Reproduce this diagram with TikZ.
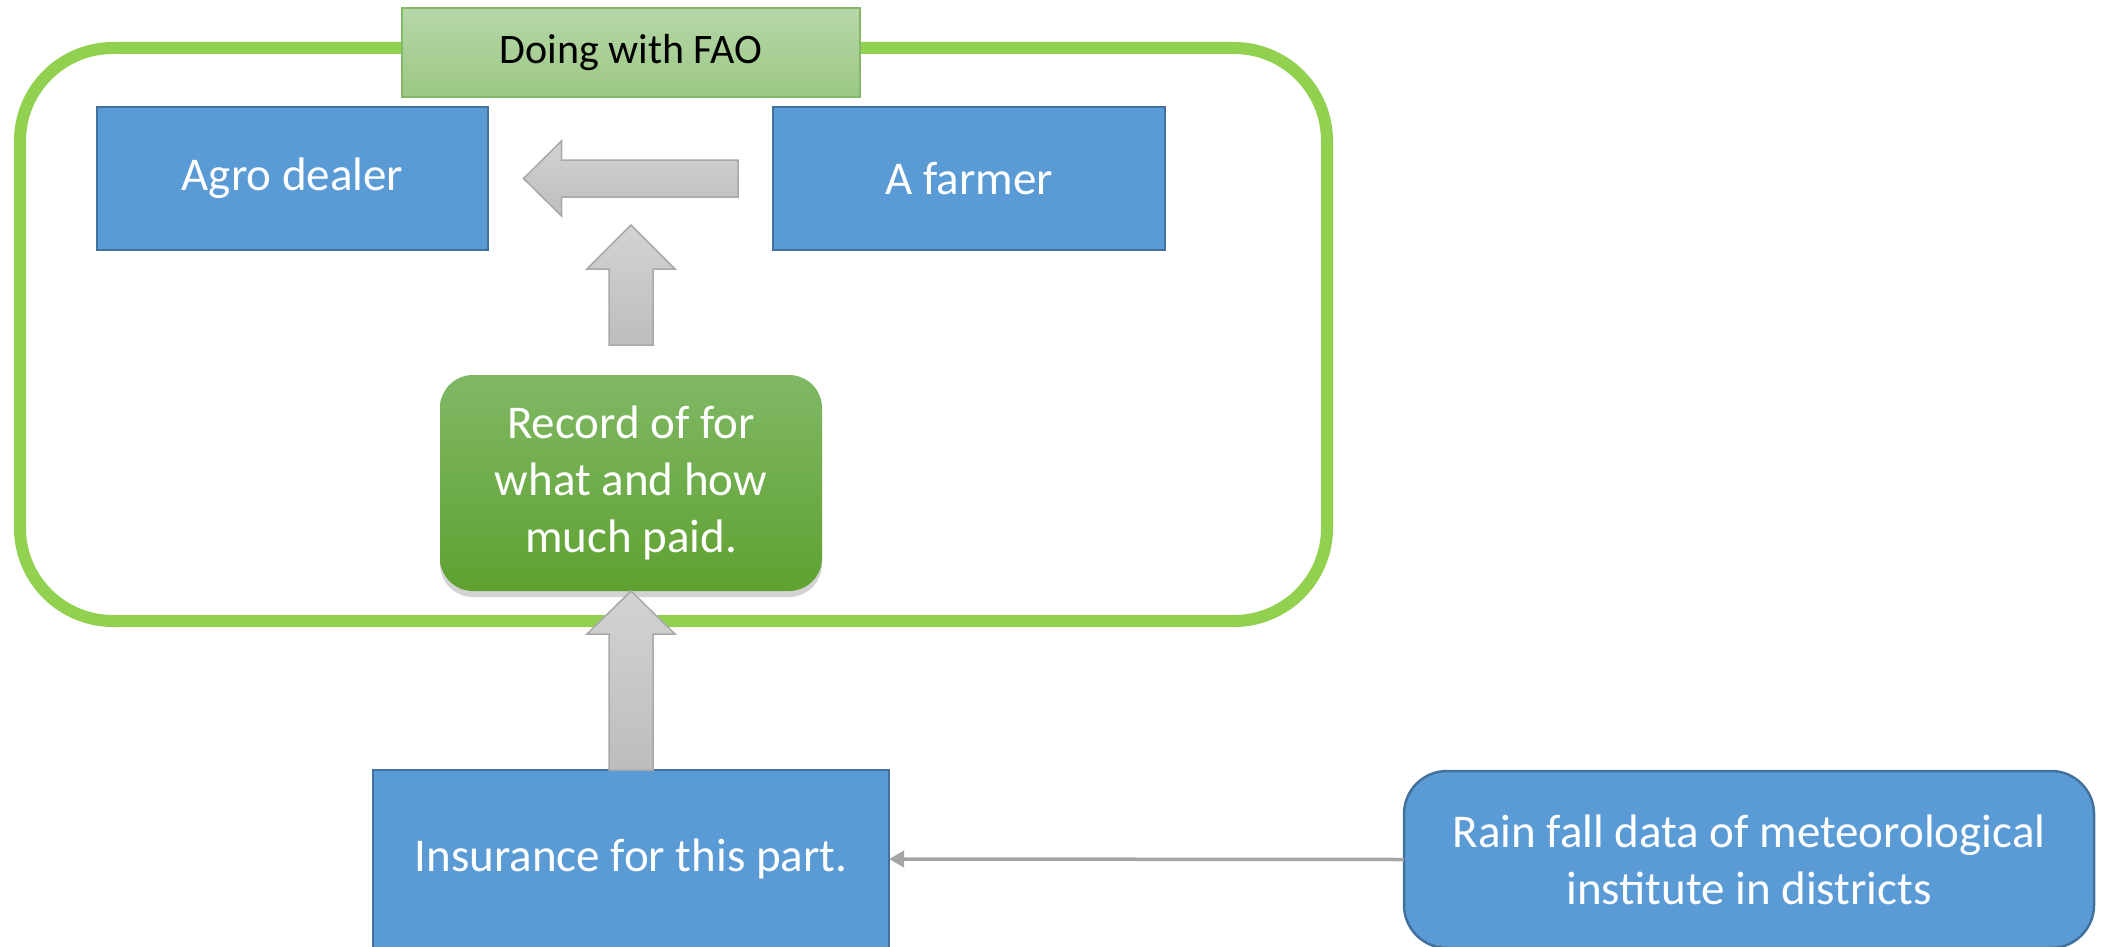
\documentclass[tikz,border=0pt]{standalone}
\usepackage{fontspec}
\setmainfont{Carlito}
\usetikzlibrary{calc,shadows,arrows.meta}
\definecolor{boxblue}{HTML}{5B9BD5}
\definecolor{boxedge}{HTML}{41719C}
\definecolor{faogreen}{HTML}{92D050}
\definecolor{titletop}{HTML}{B6D7A8}
\definecolor{titlebottom}{HTML}{9CC784}
\definecolor{titleedge}{HTML}{82B866}
\definecolor{recordtop}{HTML}{80B865}
\definecolor{recordbottom}{HTML}{5FA131}
\definecolor{arrowtop}{HTML}{D3D3D3}
\definecolor{arrowbottom}{HTML}{BDBDBD}
\definecolor{arrowedge}{HTML}{A8A8A8}
\definecolor{linkgray}{HTML}{A5A5A5}
\begin{document}
\begin{tikzpicture}[
 x=1pt, y=-1pt,
 >={Triangle[length=15pt,width=16pt]},
 align=center,
 inner sep=1mm,
 outer sep=0pt,
 bigtext/.style={font=\fontsize{47}{57}\selectfont},
 box/.style={draw=boxedge,line width=2.5pt,fill=boxblue,text=white,rectangle,bigtext},
 frame/.style={draw=faogreen,line width=12pt,rectangle,rounded corners=93pt,minimum width=1307pt,minimum height=573pt},
 title/.style={draw=titleedge,line width=1.5pt,top color=titletop,bottom color=titlebottom,minimum width=458pt,minimum height=89pt,font=\fontsize{42}{50}\selectfont},
 record/.style={rounded corners=33pt,top color=recordtop,bottom color=recordbottom,text=white,minimum width=382pt,minimum height=216pt,bigtext,
   drop shadow={shadow xshift=0pt,shadow yshift=-6pt,opacity=0.35}},
 blockarrow/.style={draw=arrowedge,line width=1.5pt,top color=arrowtop,bottom color=arrowbottom},
 link/.style={draw=linkgray,line width=3.5pt}
]
\useasboundingbox (0,0) rectangle (2103,947);
\node (fao-frame) [frame] at (673.5,334.5) {};
\node (fao-title) [title] at (631,52.5) {Doing with FAO};
\node (agro-dealer) [box,minimum width=391pt,minimum height=143pt] at (292.5,178.5) {Agro dealer};
\node (a-farmer) [box,minimum width=392pt,minimum height=143pt] at (969,178.5) {A farmer};
\node (record) [record] at (631,483) {Record of for\\what and how\\much paid.};
\node (insurance) [box,minimum width=516pt,minimum height=178pt] at (631,859) {Insurance for this part.};
\node (rain-data) [box,rounded corners=43pt,minimum width=690pt,minimum height=177pt] at (1749,859.5) {Rain fall data of meteorological\\institute in districts};
% block arrows
\draw [blockarrow] ($(agro-dealer.east)+(35.5,0)$) -- ++(38,-37.5) -- ++(0,19) -- ($(a-farmer.west)+(-35,-18.5)$) -- ++(0,37) -- ($(agro-dealer.east)+(73.5,18.5)$) -- ++(0,19) -- cycle;
\draw [blockarrow] ($(record.north)+(0,-150)$) -- ++(44,44) -- ++(-22,0) -- ($(record.north)+(22,-30)$) -- ++(-44,0) -- ($(record.north)+(-22,-106)$) -- ++(-22,0) -- cycle;
\draw [blockarrow] (record.south) -- ++(44,43) -- ++(-22,0) -- ($(insurance.north)+(22,0)$) -- ++(-44,0) -- ($(record.south)+(-22,43)$) -- ++(-22,0) -- cycle;
\draw [link,->] (rain-data.west) -- (insurance.east);
\end{tikzpicture}
\end{document}
